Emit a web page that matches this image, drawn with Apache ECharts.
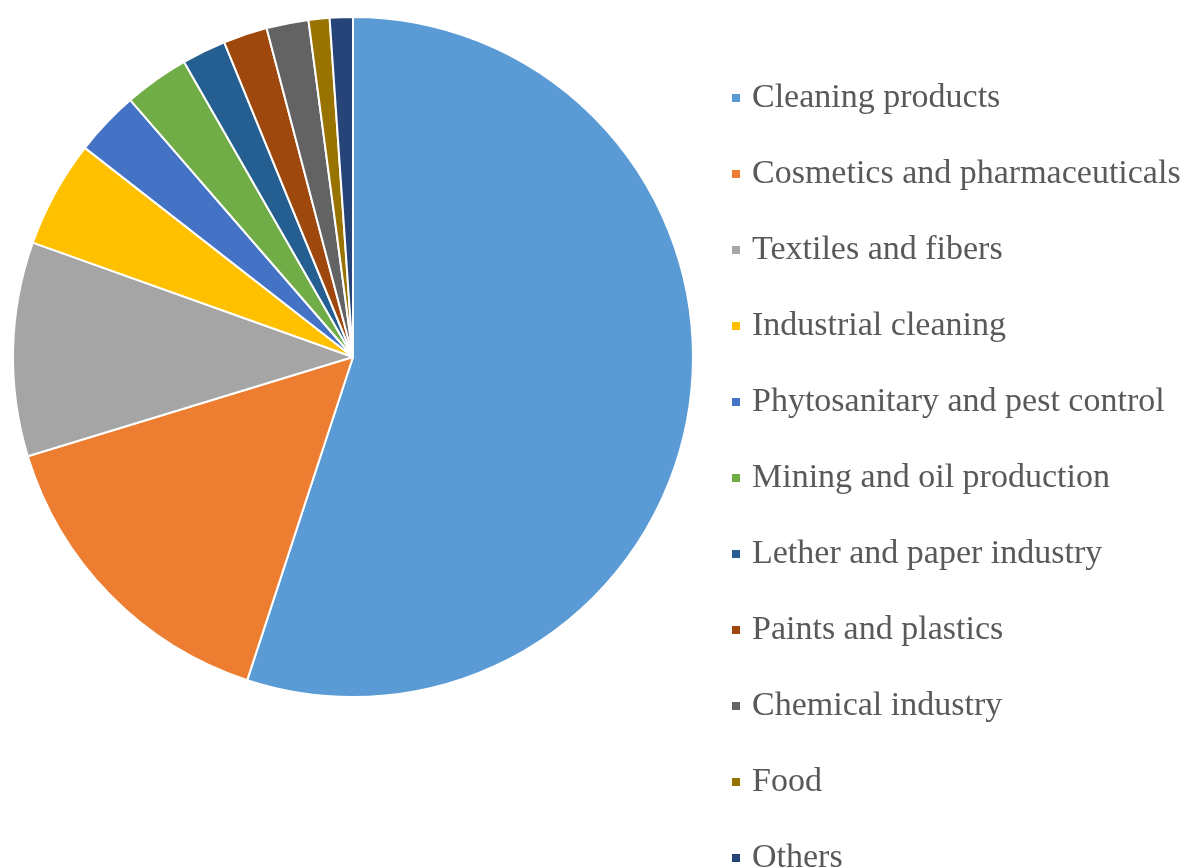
<!DOCTYPE html>
<html>
<head>
    <meta charset="UTF-8">
    <title>Applications</title>
    <style>
        html, body { margin: 0; padding: 0; background: #fff; }
        #chart { width: 1196px; height: 868px; }
    </style>
    <script src="https://cdn.jsdelivr.net/npm/echarts@6/dist/echarts.min.js"></script>
</head>
<body>
<div id="chart"></div>
<script>
    // sectors (percent)
    var categories = [
        'Cleaning products',
        'Cosmetics and pharmaceuticals',
        'Textiles and fibers',
        'Industrial cleaning',
        'Phytosanitary and pest control',
        'Mining and oil production',
        'Lether and paper industry',
        'Paints and plastics',
        'Chemical industry',
        'Food',
        'Others'
    ];
    var shares = [55.2, 15.3, 10.2, 5.1, 3.1, 3.1, 2.1, 2.1, 2.0, 1.0, 1.1];
    var colors = ['#5B9BD5', '#ED7D31', '#A5A5A5', '#FFC000', '#4472C4', '#70AD47',
                  '#255E91', '#9E480E', '#636363', '#997300', '#264478'];

    var chart = echarts.init(document.getElementById('chart'));
    var data = [];
    for (var i = 0; i < categories.length; i++) {
        data.push({name: categories[i], value: shares[i]});
    }

    var option = {
        backgroundColor: '#fff',
        color: colors,
        animation: false,
        legend: {
            orient: 'vertical',
            left: 730,
            top: 81,
            height: 820,
            padding: 0,
            itemWidth: 10,
            itemHeight: 10,
            itemGap: 42,
            icon: 'rect',
            textStyle: {
                fontFamily: 'Liberation Serif',
                fontSize: 34,
                color: '#595959',
                padding: [0, 0, 0, 6]
            },
            data: categories
        },
        series: [
            {
                type: 'pie',
                center: [353, 357],
                radius: 340,
                startAngle: 90,
                clockwise: true,
                label: {show: false},
                labelLine: {show: false},
                emphasis: {disabled: true},
                itemStyle: {borderColor: '#fff', borderWidth: 2},
                data: data
            }
        ]
    };
    chart.setOption(option);
</script>
</body>
</html>
